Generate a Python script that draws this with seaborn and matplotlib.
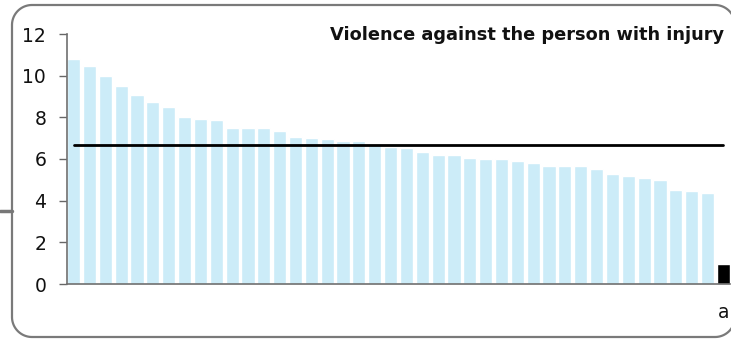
import matplotlib
matplotlib.use("Agg")
import matplotlib.pyplot as plt
import seaborn as sns
import pandas as pd
import numpy as np
from matplotlib.lines import Line2D
from matplotlib.transforms import IdentityTransform

sns.set_theme(style="white")
plt.rcParams['font.family'] = ['DejaVu Sans']

# ---- data ----
areas = [f"area{i}" for i in range(1, 42)] + ["a"]
rates = [10.8, 10.47, 9.99, 9.5, 9.07, 8.74, 8.5, 8.02, 7.92, 7.87, 7.49, 7.49,
         7.49, 7.35, 7.06, 7.01, 6.96, 6.87, 6.87, 6.72, 6.58, 6.53, 6.34, 6.19,
         6.19, 6.05, 6.0, 6.0, 5.9, 5.81, 5.66, 5.66, 5.66, 5.52, 5.28, 5.18,
         5.09, 4.99, 4.51, 4.46, 4.37, 0.96]
tick_labels = [""] * 41 + ["a"]
average = 6.67
title = "Violence against the person with injury"
yticks = [0, 2, 4, 6, 8, 10, 12]

df = pd.DataFrame({"area": areas, "rate": rates})
colors = ["#CCECF8"] * 41 + ["#000000"]

fig = plt.figure(figsize=(7.31, 3.40), dpi=100)
W, H = 731, 340
ax = fig.add_axes([67 / W, 56 / H, 663 / W, 250 / H])

sns.barplot(data=df, x="area", y="rate", hue="area", palette=colors,
            legend=False, width=0.83, saturation=1, ax=ax)

ax.plot([0, len(areas) - 1], [average, average], color="black", lw=2.0, zorder=5)

ax.set_xlim(-0.42, len(areas) - 0.58)
ax.set_ylim(0, 12)
ax.set_yticks(yticks)
ax.set_yticklabels([str(t) for t in yticks], fontsize=13.5, color="#111111")
ax.set_xticks(range(len(areas)))
ax.set_xticklabels(tick_labels, fontsize=13.5, color="#111111")
ax.tick_params(axis="y", direction="out", length=6, width=1, color="#666666", pad=9, left=True)
ax.tick_params(axis="x", length=0, pad=14)
ax.set_xlabel("")
ax.set_ylabel("")
for s in ["top", "right"]:
    ax.spines[s].set_visible(False)
for s in ["left", "bottom"]:
    ax.spines[s].set_color("#707070")
    ax.spines[s].set_linewidth(1.2)

ax.text(724 / W, 1 - 35 / H, title, transform=fig.transFigure, ha="right",
        va="center", fontsize=12.8, fontweight="bold", color="#111111")

# rounded frame drawn as a polyline in pixel coordinates
x0, y0, x1, y1, r = 12, 3, 735, 335, 20
t = np.linspace(0, np.pi / 2, 24)
xs, ys = [], []
for cx, cy, a0 in [(x1 - r, y1 - r, 0), (x0 + r, y1 - r, np.pi / 2),
                   (x0 + r, y0 + r, np.pi), (x1 - r, y0 + r, 1.5 * np.pi)]:
    xs.extend(cx + r * np.cos(a0 + t))
    ys.extend(cy + r * np.sin(a0 + t))
xs.append(xs[0]); ys.append(ys[0])
frame = Line2D(xs, ys, transform=IdentityTransform(), color="#7a7a7a", lw=1.6, zorder=0)
fig.add_artist(frame)
fig.add_artist(Line2D([0, 12 / W], [1 - 211 / H, 1 - 211 / H], transform=fig.transFigure,
                      color="#777777", lw=2.5))

fig.savefig("out.png", dpi=100)
